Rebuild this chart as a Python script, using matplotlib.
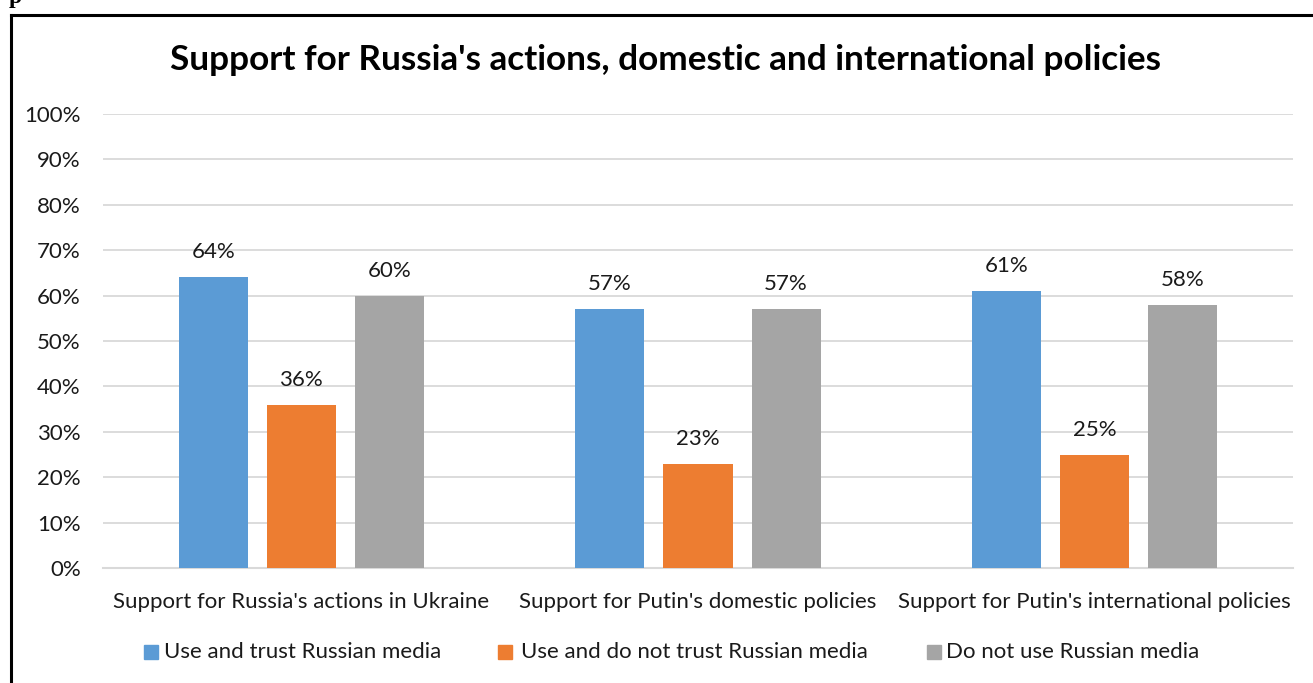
import matplotlib.pyplot as plt
import matplotlib.patches as mpatches
from matplotlib.lines import Line2D
import numpy as np

categories = ["Support for Russia's actions in Ukraine",
              "Support for Putin's domestic policies",
              "Support for Putin's international policies"]
series_names = ["Use and trust Russian media",
                "Use and do not trust Russian media",
                "Do not use Russian media"]
trust_media = [64, 57, 61]
distrust_media = [36, 23, 25]
no_media = [60, 57, 58]
yticks = [0, 10, 20, 30, 40, 50, 60, 70, 80, 90, 100]

colors = ["#5B9BD5", "#ED7D31", "#A5A5A5"]
FONT = "Lato"
FS = 16
TXT = "#1a1a1a"

W, H = 1313, 683
fig = plt.figure(figsize=(W / 100, H / 100), dpi=100)

# frame lines on the left and top
fig.add_artist(Line2D([10.5 / W, 10.5 / W], [0, 1 - 14.5 / H], color="black", lw=2.2))
fig.add_artist(Line2D([10.5 / W, 1], [1 - 15 / H, 1 - 15 / H], color="black", lw=2.2))
# preceding line of document text, cut off at the top edge
fig.text(9 / W, 1 - 3 / H, "p", ha="left", va="baseline", fontsize=17,
         fontweight="bold", family="Liberation Serif", color="black")

ax = fig.add_axes([103 / W, 1 - 568 / H, (1293 - 103) / W, (568 - 114) / H])

x = np.arange(len(categories))
width = 0.174
step = 0.222
series = [trust_media, distrust_media, no_media]
for i, (vals, col) in enumerate(zip(series, colors)):
    pos = x + (i - 1) * step
    ax.bar(pos, vals, width=width, color=col, zorder=3)
    for p, v in zip(pos, vals):
        ax.text(p, v + 3.3, f"{v}%", ha="center", va="bottom",
                fontsize=FS, family=FONT, color=TXT)

ax.set_xlim(-0.5, 2.5)
ax.set_ylim(0, 100)
ax.set_yticks(yticks)
ax.set_yticklabels([f"{t}%" for t in yticks], family=FONT, fontsize=FS, color=TXT)
ax.set_xticks(x)
ax.set_xticklabels(categories, family=FONT, fontsize=FS, color=TXT)
ax.tick_params(axis="both", length=0)
ax.tick_params(axis="y", pad=16)
ax.tick_params(axis="x", pad=17)
ax.grid(axis="y", color="#D9D9D9", lw=1.3, zorder=0)
for s in ["top", "right", "left"]:
    ax.spines[s].set_visible(False)
ax.spines["bottom"].set_color("#D9D9D9")
ax.spines["bottom"].set_linewidth(1.5)

fig.text(666 / W, 1 - 60 / H, "Support for Russia's actions, domestic and international policies",
         ha="center", va="center", fontsize=25.3, fontweight="bold", family=FONT, color="black")

# legend
leg_items = [(144, 164), (498, 521), (927, 946)]
for (sx, tx), name, col in zip(leg_items, series_names, colors):
    fig.add_artist(mpatches.Rectangle((sx / W, 1 - 659 / H), 14 / W, 14 / H,
                                      transform=fig.transFigure, color=col))
    fig.text(tx / W, 1 - 652 / H, name, ha="left", va="center",
             fontsize=FS, family=FONT, color=TXT)

fig.savefig("out.png", dpi=100, facecolor="white")
